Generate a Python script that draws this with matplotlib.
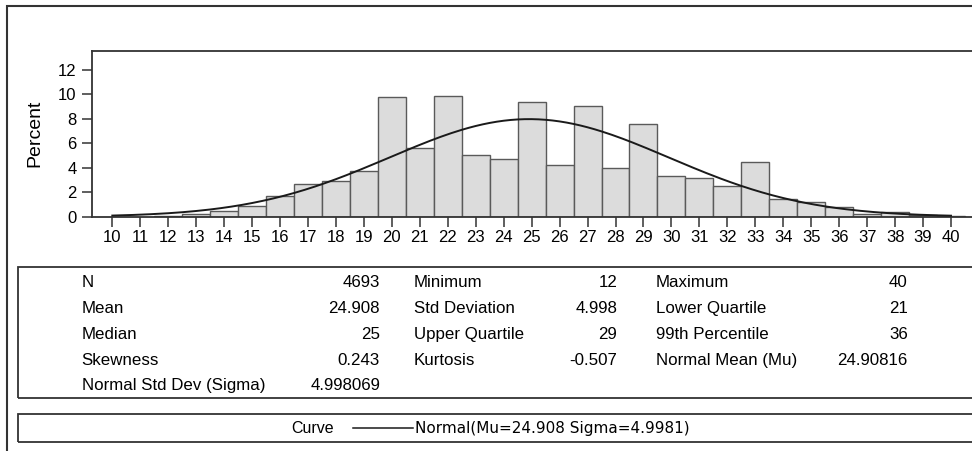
import numpy as np
import matplotlib
matplotlib.use('Agg')
import matplotlib.pyplot as plt
from matplotlib.patches import Rectangle
from matplotlib.lines import Line2D

# histogram: percent of observations per integer value
bins = [12, 13, 14, 15, 16, 17, 18, 19, 20, 21, 22, 23, 24, 25, 26,
        27, 28, 29, 30, 31, 32, 33, 34, 35, 36, 37, 38, 39, 40]
percent = [0.02, 0.2, 0.45, 0.85, 1.7, 2.65, 2.92, 3.74, 9.76, 5.6, 9.9, 5.06, 4.68, 9.35, 4.24,
           9.07, 3.97, 7.6, 3.31, 3.17, 2.52, 4.51, 1.48, 1.18, 0.8, 0.25, 0.4, 0.15, 0.02]

# fitted normal curve
mu = 24.90816
sigma = 4.998069
curve_from, curve_to = 10, 40

xticks = list(range(10, 41))
yticks = [0, 2, 4, 6, 8, 10, 12]

# summary statistics table
stat_labels_1 = ['N', 'Mean', 'Median', 'Skewness', 'Normal Std Dev (Sigma)']
stat_values_1 = ['4693', '24.908', '25', '0.243', '4.998069']
stat_labels_2 = ['Minimum', 'Std Deviation', 'Upper Quartile', 'Kurtosis']
stat_values_2 = ['12', '4.998', '29', '-0.507']
stat_labels_3 = ['Maximum', 'Lower Quartile', '99th Percentile', 'Normal Mean (Mu)']
stat_values_3 = ['40', '21', '36', '24.90816']

legend_title = 'Curve'
legend_entry = 'Normal(Mu=24.908 Sigma=4.9981)'

W, H = 972, 451
sans = ['Liberation Sans', 'DejaVu Sans']
frame_col = '#333333'


def fx(x):
    return x / W


def fy(y):
    return 1 - y / H


fig = plt.figure(figsize=(W / 100, H / 100), dpi=100)
fig.patch.set_facecolor('white')

# plot area (right edge runs past the picture, as in the original)
left, right, top, bottom = 92.3, 990, 50.7, 216.7
ax = fig.add_axes([fx(left), fy(bottom), fx(right) - fx(left), fy(top) - fy(bottom)])
ax.set_xlim(10 - (112.3 - left) / 27.957, 40 + (right - 951) / 27.957)
ax.set_ylim(0, 12 + (70.0 - top) / 12.225)

ax.bar(bins, percent, width=1, color='#dcdcdc', edgecolor='#5a5a5a', linewidth=1.0, zorder=2)

xs = np.linspace(curve_from, curve_to, 241)
ys = 100.0 / (sigma * np.sqrt(2 * np.pi)) * np.exp(-0.5 * ((xs - mu) / sigma) ** 2)
ax.plot(xs, ys, color='#1a1a1a', linewidth=1.4, zorder=3)

ax.set_xticks(xticks)
ax.set_yticks(yticks)
ax.set_xticklabels([str(t) for t in xticks], fontfamily=sans, fontsize=12)
ax.set_yticklabels([str(t) for t in yticks], fontfamily=sans, fontsize=12)
ax.tick_params(axis='x', direction='out', length=7.2, width=1.1, pad=2.2, color=frame_col)
ax.tick_params(axis='y', direction='out', length=6.9, width=1.1, pad=4.3, color=frame_col)
for side in ['left', 'top', 'bottom', 'right']:
    ax.spines[side].set_color(frame_col)
    ax.spines[side].set_linewidth(1.3)

fig.text(fx(34.5), fy(133), 'Percent', rotation=90, ha='center', va='center',
         fontfamily=sans, fontsize=14)

# outer frame and boxes
fig.patches.append(Rectangle((fx(7.3), fy(470)), fx(1000) - fx(7.3), fy(6) - fy(470),
                             transform=fig.transFigure, fill=False, edgecolor=frame_col,
                             linewidth=1.5, clip_on=False))
fig.patches.append(Rectangle((fx(18.3), fy(398)), fx(1000) - fx(18.3), fy(266.5) - fy(398),
                             transform=fig.transFigure, fill=False, edgecolor=frame_col,
                             linewidth=1.3, clip_on=False))
fig.patches.append(Rectangle((fx(18.3), fy(442)), fx(1000) - fx(18.3), fy(414) - fy(442),
                             transform=fig.transFigure, fill=False, edgecolor=frame_col,
                             linewidth=1.3, clip_on=False))

# stats table, text placed on its baseline
row_base = [287.3, 313.0, 338.8, 364.6, 390.4]
fs = 12.2
for i, (lab, val) in enumerate(zip(stat_labels_1, stat_values_1)):
    fig.text(fx(81.7), fy(row_base[i]), lab, ha='left', va='baseline', fontfamily=sans, fontsize=fs)
    fig.text(fx(380), fy(row_base[i]), val, ha='right', va='baseline', fontfamily=sans, fontsize=fs)
for i, (lab, val) in enumerate(zip(stat_labels_2, stat_values_2)):
    fig.text(fx(413.5), fy(row_base[i]), lab, ha='left', va='baseline', fontfamily=sans, fontsize=fs)
    fig.text(fx(617.3), fy(row_base[i]), val, ha='right', va='baseline', fontfamily=sans, fontsize=fs)
for i, (lab, val) in enumerate(zip(stat_labels_3, stat_values_3)):
    fig.text(fx(655.7), fy(row_base[i]), lab, ha='left', va='baseline', fontfamily=sans, fontsize=fs)
    fig.text(fx(907.7), fy(row_base[i]), val, ha='right', va='baseline', fontfamily=sans, fontsize=fs)

# legend
fig.text(fx(313), fy(433), legend_title, ha='center', va='baseline', fontfamily=sans, fontsize=11.5)
fig.lines.append(Line2D([fx(353), fx(413)], [fy(428), fy(428)], transform=fig.transFigure,
                        color='#1a1a1a', linewidth=1.1))
fig.text(fx(415), fy(433), legend_entry, ha='left', va='baseline',
         fontfamily=['DejaVu Sans'], fontsize=11)

fig.savefig('out.png', dpi=100)
